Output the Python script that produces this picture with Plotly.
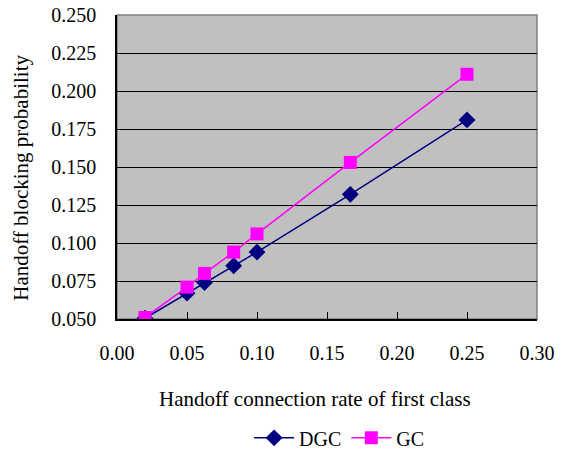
import plotly.graph_objects as go

x_rate = [1/50, 1/20, 1/16, 1/12, 1/10, 1/6, 1/4]
dgc = [0.0505, 0.067, 0.074, 0.085, 0.094, 0.132, 0.181]
gc = [0.051, 0.071, 0.080, 0.094, 0.106, 0.153, 0.211]

x_ticks = [0.00, 0.05, 0.10, 0.15, 0.20, 0.25, 0.30]
x_ticktext = ["0.00", "0.05", "0.10", "0.15", "0.20", "0.25", "0.30"]
y_ticks = [0.050, 0.075, 0.100, 0.125, 0.150, 0.175, 0.200, 0.225, 0.250]
y_ticktext = ["0.050", "0.075", "0.100", "0.125", "0.150", "0.175", "0.200", "0.225", "0.250"]

font_family = "Liberation Serif"

fig = go.Figure()
fig.add_trace(go.Scatter(
    x=x_rate, y=dgc, name="DGC", mode="lines+markers",
    line=dict(color="#000080", width=1.5),
    marker=dict(symbol="diamond", size=13, color="#000080"),
))
fig.add_trace(go.Scatter(
    x=x_rate, y=gc, name="GC", mode="lines+markers",
    line=dict(color="#FF00FF", width=1.5),
    marker=dict(symbol="square", size=13, color="#FF00FF"),
))

fig.update_layout(
    width=563, height=454,
    margin=dict(l=117, r=26, t=15, b=135, autoexpand=False),
    paper_bgcolor="white",
    plot_bgcolor="#C0C0C0",
    font=dict(family=font_family, size=20, color="black"),
    showlegend=True,
    legend=dict(orientation="h", x=0.53, y=-0.391, xanchor="center", yanchor="middle",
                font=dict(family=font_family, size=20), itemwidth=40, bgcolor="rgba(0,0,0,0)"),
    xaxis=dict(
        range=[0, 0.30], tickvals=x_ticks, ticktext=x_ticktext,
        showgrid=False, zeroline=False, automargin=False,
        showline=True, linecolor="black", linewidth=1.5, mirror=False,
        ticks="inside", ticklen=7, tickcolor="black", tickwidth=1,
        ticklabelstandoff=15,
        tickfont=dict(family=font_family, size=20),
    ),
    yaxis=dict(
        range=[0.05, 0.25], tickvals=y_ticks, ticktext=y_ticktext,
        showgrid=True, gridcolor="black", gridwidth=1, zeroline=False, automargin=False,
        showline=True, linecolor="black", linewidth=1.5,
        ticks="inside", ticklen=7, tickcolor="black", tickwidth=1,
        ticklabelstandoff=15,
        tickfont=dict(family=font_family, size=20),
    ),
    annotations=[
        dict(text="Handoff connection rate of first class", xref="paper", yref="paper",
             x=0.471, y=-0.263, xanchor="center", yanchor="middle", showarrow=False,
             font=dict(family=font_family, size=21)),
        dict(text="Handoff blocking probability", xref="paper", yref="paper",
             x=-0.229, y=0.464, xanchor="center", yanchor="middle", showarrow=False,
             textangle=-90, font=dict(family=font_family, size=21)),
    ],
    shapes=[
        dict(type="rect", xref="paper", yref="paper", x0=0, y0=0, x1=1, y1=1,
             line=dict(color="#808080", width=1.5), layer="below"),
    ],
)

fig.write_html("out.html", config={"displayModeBar": False},
               post_script="document.body.style.margin='0';")
